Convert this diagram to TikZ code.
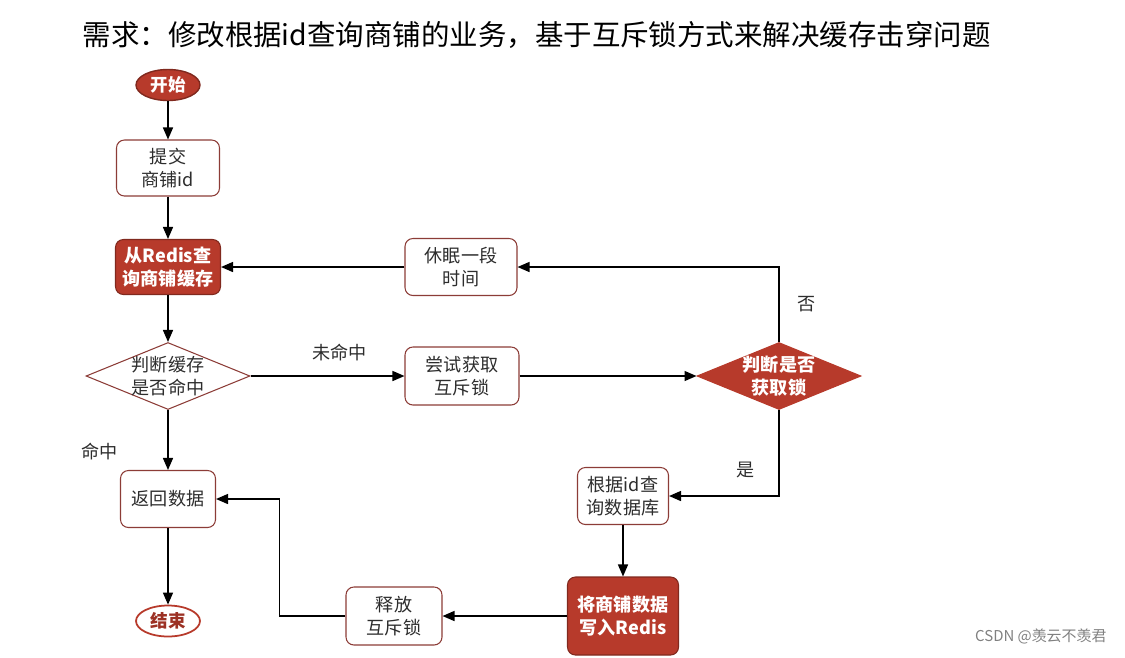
\documentclass[tikz,border=0pt]{standalone}
\usepackage{fontspec}
\setmainfont{Noto Sans CJK SC}
\usetikzlibrary{arrows.meta, shapes.geometric}

\definecolor{lockred}{RGB}{183,58,43}
\definecolor{edgered}{RGB}{140,60,55}
\definecolor{inkgray}{RGB}{45,45,45}

\begin{document}
\begin{tikzpicture}[x=0.02cm, y=-0.02cm, line width=0.8pt, >={Triangle[length=2.4mm, width=2mm]},
  box/.style={draw=edgered, line width=0.6pt, rounded corners=4.5pt, fill=white, text=inkgray,
    align=center, font=\fontsize{10.3}{12.8}\selectfont, minimum height=1.14cm, inner sep=2pt},
  redbox/.style={box, fill=lockred, draw=lockred!70!black, text=white, font=\fontsize{10.3}{12.8}\selectfont\bfseries},
  chk/.style={diamond, draw=edgered, line width=0.6pt, fill=white, minimum width=3.28cm, minimum height=1.34cm, inner sep=0pt},
  redchk/.style={chk, fill=lockred, draw=lockred},
  term/.style={ellipse, minimum width=1.28cm, minimum height=0.62cm, inner sep=0pt, font=\fontsize{10}{12}\selectfont\bfseries},
  lbl/.style={font=\fontsize{10.3}{12}\selectfont, text=inkgray}]
\def\txt{\fontsize{10.3}{12.8}\selectfont}

\useasboundingbox (0,0) rectangle (1125,657);

\node[anchor=west, inner sep=0pt, font=\fontsize{16.2}{20}\selectfont, text=black] (title) at (82,35)
  {需求：修改根据id查询商铺的业务，基于互斥锁方式来解决缓存击穿问题};

% left column
\node[term, fill=lockred, draw=lockred!70!black, text=white] (start) at (168,85) {开始};
\node[box, minimum width=2.06cm, minimum height=1.12cm] (submit) at (168,168) {提交\\商铺id};
\node[redbox, minimum width=2.1cm, minimum height=1.1cm] (redis) at (168,267) {从Redis查\\询商铺缓存};
\node[chk, label={[align=center, text=inkgray, font=\txt]center:{判断缓存\\是否命中}}] (hit) at (168,376) {};
\node[box, minimum width=1.9cm] (ret) at (168,499) {返回数据};
\node[term, draw=lockred, line width=1pt, fill=white, text=lockred!85!black] (stop) at (168,621) {结束};

% middle and right
\node[box, minimum width=2.28cm, minimum height=1.16cm] (trylock) at (462,376) {尝试获取\\互斥锁};
\node[box, minimum width=2.24cm] (sleep) at (461,267) {休眠一段\\时间};
\node[redchk, label={[align=center, text=white, font=\txt\bfseries]center:{判断是否\\获取锁}}] (gotlock) at (779,376) {};
\node[box, minimum width=1.82cm] (db) at (623,496) {根据id查\\询数据库};
\node[redbox, minimum width=2.22cm, minimum height=1.56cm] (write) at (623,616) {将商铺数据\\写入Redis};
\node[box, minimum width=1.92cm, minimum height=1.16cm] (release) at (394,616) {释放\\互斥锁};

\draw[->] (start) -- (submit);
\draw[->] (submit) -- (redis);
\draw[->] (redis) -- (hit.north);
\draw[->] (hit.east) -- (trylock.west) node[lbl, pos=0.58, above=5pt] {未命中};
\draw[->] (trylock.east) -- (gotlock.west);
\draw[->] (gotlock.north) |- (sleep.east) node[lbl, pos=0.25, right=7pt] {否};
\draw[->] (sleep.west) -- (redis.east);
\draw[->] (gotlock.south) |- (db.east) node[lbl, pos=0.35, left=10pt] {是};
\draw[->] (db) -- (write);
\draw[->] (write.west) -- (release.east);
\draw[->] (release.west) -- ++(-66,0) |- (ret.east);
\draw[->] (hit.south) -- (ret.north) node[lbl, pos=0.7, left=25pt] {命中};
\draw[->] (ret) -- (stop);

\node[anchor=east, text=gray, font=\fontsize{8.5}{10}\selectfont] (mark) at (1113,636) {CSDN @羡云不羡君};

\end{tikzpicture}
\end{document}
